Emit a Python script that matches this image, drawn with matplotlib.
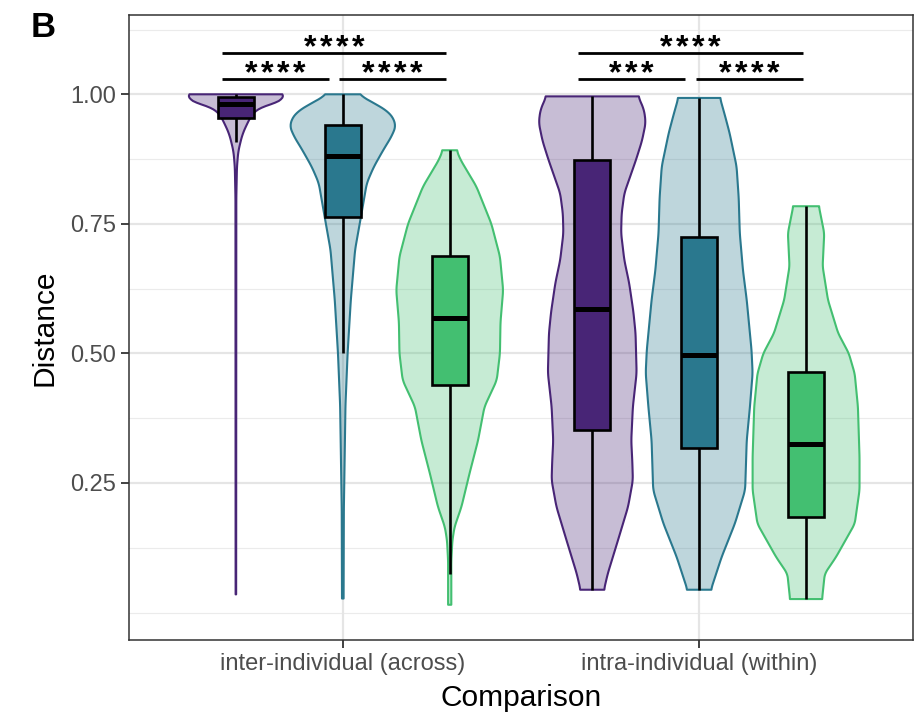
import numpy as np
import matplotlib.pyplot as plt
import matplotlib.colors as mcolors
from matplotlib.textpath import TextPath
from matplotlib.font_manager import FontProperties

plt.rcParams['font.family'] = ['Liberation Sans', 'DejaVu Sans']

categories = ['inter-individual (across)', 'intra-individual (within)']
colors = ['#482576', '#2A788E', '#43BF71']

# box stats: (lower whisker, q1, median, q3, upper whisker), per category, per group
inter_boxes = [(0.907, 0.955, 0.981, 0.994, 1.000),
               (0.500, 0.763, 0.880, 0.940, 1.000),
               (0.075, 0.439, 0.568, 0.688, 0.892)]
intra_boxes = [(0.044, 0.352, 0.585, 0.874, 0.996),
               (0.044, 0.318, 0.497, 0.724, 0.993),
               (0.026, 0.184, 0.326, 0.465, 0.784)]

# violin outlines: distance value -> relative width
inter_purple_y = [1.000, 0.995, 0.990, 0.985, 0.980, 0.974, 0.961, 0.941, 0.922, 0.903, 0.890, 0.860, 0.800, 0.035]
inter_purple_w = [0.80, 0.97, 1.00, 0.78, 0.58, 0.43, 0.30, 0.20, 0.12, 0.075, 0.045, 0.02, 0.008, 0.005]
inter_teal_y = [1.000, 0.985, 0.965, 0.941, 0.920, 0.893, 0.860, 0.829, 0.764, 0.700, 0.603, 0.500, 0.400, 0.300, 0.200, 0.027]
inter_teal_w = [0.28, 0.55, 0.88, 1.00, 0.92, 0.76, 0.58, 0.45, 0.34, 0.23, 0.15, 0.09, 0.05, 0.035, 0.02, 0.015]
inter_green_y = [0.892, 0.874, 0.822, 0.750, 0.687, 0.622, 0.560, 0.500, 0.448, 0.397, 0.332, 0.268, 0.204, 0.165, 0.139, 0.100, 0.015]
inter_green_w = [0.13, 0.20, 0.50, 0.78, 0.94, 1.00, 0.95, 0.94, 0.88, 0.65, 0.53, 0.37, 0.22, 0.09, 0.05, 0.03, 0.03]

intra_purple_y = [0.996, 0.970, 0.945, 0.910, 0.874, 0.809, 0.770, 0.732, 0.680, 0.636, 0.580, 0.539, 0.462, 0.397, 0.332, 0.290, 0.255, 0.204, 0.139, 0.075, 0.044]
intra_purple_w = [0.86, 0.97, 1.00, 0.93, 0.82, 0.60, 0.55, 0.54, 0.60, 0.69, 0.77, 0.81, 0.83, 0.76, 0.73, 0.75, 0.76, 0.67, 0.48, 0.29, 0.22]
intra_teal_y = [0.993, 0.960, 0.925, 0.861, 0.800, 0.732, 0.660, 0.603, 0.506, 0.462, 0.397, 0.332, 0.268, 0.236, 0.172, 0.107, 0.044]
intra_teal_w = [0.39, 0.48, 0.57, 0.70, 0.74, 0.76, 0.82, 0.89, 0.98, 1.00, 0.95, 0.89, 0.87, 0.86, 0.67, 0.42, 0.22]
intra_green_y = [0.784, 0.732, 0.668, 0.603, 0.539, 0.500, 0.461, 0.397, 0.300, 0.236, 0.171, 0.107, 0.075, 0.026]
intra_green_w = [0.24, 0.34, 0.31, 0.41, 0.60, 0.80, 0.91, 0.97, 1.00, 1.00, 0.91, 0.56, 0.35, 0.30]

violins = [
    [(inter_purple_y, inter_purple_w), (inter_teal_y, inter_teal_w), (inter_green_y, inter_green_w)],
    [(intra_purple_y, intra_purple_w), (intra_teal_y, intra_teal_w), (intra_green_y, intra_green_w)],
]
boxes = [inter_boxes, intra_boxes]

# significance brackets: (x start, x end, y, label)
sig_brackets = [(0.66, 0.96, 1.029, '****'), (0.99, 1.29, 1.029, '****'), (0.66, 1.29, 1.079, '****'),
                (1.66, 1.96, 1.029, '***'), (1.99, 2.29, 1.029, '****'), (1.66, 2.29, 1.079, '****')]

fig = plt.figure(figsize=(9.16, 7.15), dpi=100)
ax = fig.add_axes([0.1408, 0.1049, 0.8559, 0.8741])
ylo, yhi = -0.053, 1.153
xlo, xhi = 0.4, 2.6

dodge = [-0.3, 0.0, 0.3]
half = 0.15
box_w = 0.1

for ci in range(len(categories)):
    for gi in range(3):
        xc = ci + 1 + dodge[gi]
        vy, vw = violins[ci][gi]
        vy = np.array(vy)
        vw = np.array(vw)
        yy = np.linspace(vy.max(), vy.min(), 300)
        ww = np.interp(yy, vy[::-1], vw[::-1])
        k = np.ones(7) / 7
        wpad = np.concatenate([np.full(3, ww[0]), ww, np.full(3, ww[-1])])
        ww = np.convolve(wpad, k, mode='valid')
        xs = np.concatenate([xc - half * ww, (xc + half * ww)[::-1]])
        ys = np.concatenate([yy, yy[::-1]])
        ax.fill(xs, ys, facecolor=mcolors.to_rgba(colors[gi], 0.3),
                edgecolor=colors[gi], linewidth=1.5, zorder=2, joinstyle='round')

for ci in range(len(categories)):
    for gi in range(3):
        xc = ci + 1 + dodge[gi]
        lo, q1, med, q3, hi = boxes[ci][gi]
        ax.plot([xc, xc], [q3, hi], color='black', lw=1.9, zorder=3, solid_capstyle='butt')
        ax.plot([xc, xc], [lo, q1], color='black', lw=1.9, zorder=3, solid_capstyle='butt')
        ax.add_patch(plt.Rectangle((xc - box_w / 2, q1), box_w, q3 - q1, facecolor=colors[gi],
                                   edgecolor='black', lw=1.9, zorder=4))
        ax.plot([xc - box_w / 2, xc + box_w / 2], [med, med], color='black', lw=3.6, zorder=5,
                solid_capstyle='butt')

# asterisks: size the glyph to about 12 px, centre it 13 px above its bar, 16 px apart
ypx = (yhi - ylo) / (0.8741 * 715)
xpx = (xhi - xlo) / (0.8559 * 916)
star_prop = FontProperties(family='Liberation Sans', weight='bold')
ext = TextPath((0, 0), '*', size=10, prop=star_prop).get_extents()
star_fs = 12 / ((ext.y1 - ext.y0) / 10 * 100 / 72)
star_mid = (ext.y0 + ext.y1) / 2 / 10 * star_fs * 100 / 72 * ypx
star_step = 16 * xpx

for x0, x1, y, lab in sig_brackets:
    ax.plot([x0, x1], [y, y], color='black', lw=2.0, solid_capstyle='butt', zorder=5)
    n = len(lab)
    for j in range(n):
        sx = (x0 + x1) / 2 + (j - (n - 1) / 2) * star_step
        ax.text(sx, y + 13 * ypx - star_mid, '*', ha='center', va='baseline',
                fontsize=star_fs, fontweight='bold', color='black')

ax.set_xlim(xlo, xhi)
ax.set_ylim(ylo, yhi)
ax.set_xticks([1, 2])
ax.set_xticklabels(categories)
ax.set_yticks([0.25, 0.5, 0.75, 1.0])
ax.set_yticklabels(['0.25', '0.50', '0.75', '1.00'])
for v in [0.0, 0.125, 0.375, 0.625, 0.875, 1.125]:
    ax.axhline(v, color='#EBEBEB', lw=0.8, zorder=0)
for v in [0.25, 0.5, 0.75, 1.0]:
    ax.axhline(v, color='#E5E5E5', lw=1.6, zorder=0)
for v in [1, 2]:
    ax.axvline(v, color='#E5E5E5', lw=1.6, zorder=0)

ax.tick_params(axis='both', colors='#333333', length=5.5, width=1.3, labelsize=17,
               labelcolor='#4D4D4D', pad=4)
for s in ax.spines.values():
    s.set_color('#333333')
    s.set_linewidth(1.1)

ax.set_xlabel('Comparison', fontsize=21.5, labelpad=6)
ax.set_ylabel('Distance', fontsize=21.5, labelpad=8)
fig.text(0.033, 0.962, 'B', fontsize=25, fontweight='bold', va='center', ha='left')

fig.savefig('out.png', dpi=100)
